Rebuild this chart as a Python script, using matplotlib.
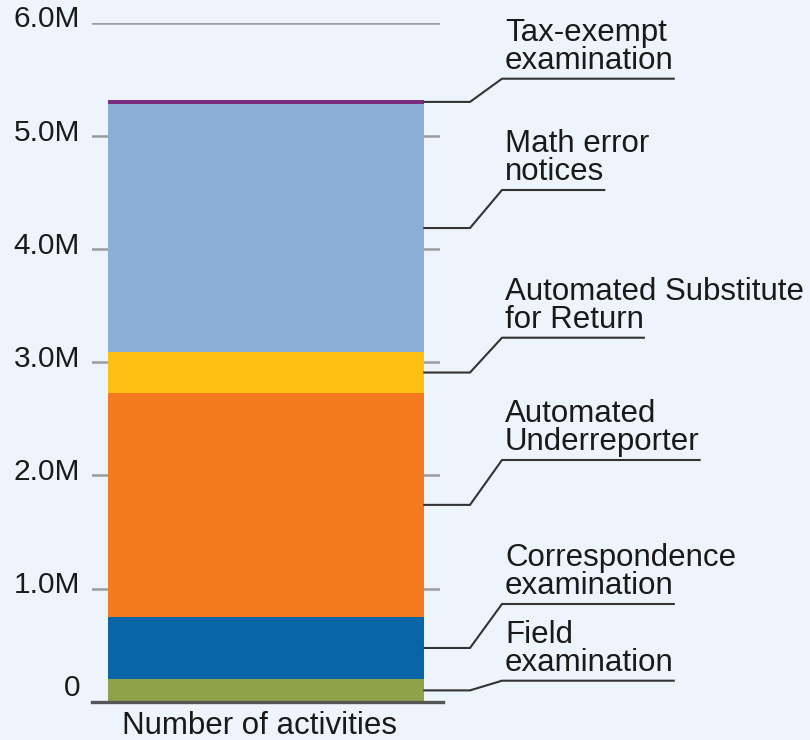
import matplotlib
matplotlib.use("Agg")
import matplotlib.pyplot as plt
from matplotlib.font_manager import FontProperties
from matplotlib.lines import Line2D
from matplotlib.transforms import blended_transform_factory, offset_copy

# ---------------- data ----------------
categories = [
    "Field\nexamination",
    "Correspondence\nexamination",
    "Automated\nUnderreporter",
    "Automated Substitute\nfor Return",
    "Math error\nnotices",
    "Tax-exempt\nexamination",
]
values = [0.20e6, 0.55e6, 1.98e6, 0.36e6, 2.195e6, 0.035e6]
colors = ["#8DA34A", "#0866A8", "#F47A20", "#FDC013", "#8AAED5", "#7A2D80"]
yticks = [0, 1e6, 2e6, 3e6, 4e6, 5e6, 6e6]
ytick_labels = ["0", "1.0M", "2.0M", "3.0M", "4.0M", "5.0M", "6.0M"]
xlabel = "Number of activities"

# ---------------- layout (pixels) ----------------
W, H = 810, 740
BG = "#EEF4FB"
FONT = "Liberation Sans"
TXT = "#1A1A1A"
label_line_px = [680.7, 604, 460, 337.7, 190, 78.7]   # underline y (from top)
elbow_x, diag_x, text_x = 470, 502, 505

fig = plt.figure(figsize=(W / 100, H / 100), dpi=100, facecolor=BG)
ax_left, ax_right, ax_top, ax_bot = 92, 440, 23, 701.7
ax = fig.add_axes([ax_left / W, 1 - ax_bot / H, (ax_right - ax_left) / W, (ax_bot - ax_top) / H])
ax.set_facecolor(BG)
ax.set_xlim(-0.5, 0.5)
ax.set_ylim(0, 6e6)
for s in ax.spines.values():
    s.set_visible(False)
ax.set_xticks([])
ax.set_yticks(yticks)
ax.set_yticklabels([])
ax.tick_params(axis="y", length=0)
ax.yaxis.grid(True, color="#9C9C9C", lw=1.8, zorder=0)
ax.set_axisbelow(True)

bar_w = 0.91
bottom = 0
mids = []
for v, c in zip(values, colors):
    ax.bar(0, v, width=bar_w, bottom=bottom, color=c, zorder=2, linewidth=0)
    mids.append(bottom + v / 2)
    bottom += v

# zero baseline
ax.axhline(0, xmin=0, xmax=(443 - ax_left) / (ax_right - ax_left), color="#555555",
           lw=2.4, zorder=3, clip_on=False)

# y tick labels
trans = blended_transform_factory(ax.transAxes, ax.transData)
for val, lab in zip(yticks, ytick_labels):
    dy = 14 if val == 0 else 3.5
    t = offset_copy(trans, fig=fig, x=-12, y=dy, units="dots")
    ax.text(0, val, lab, transform=t, ha="right", va="center", fontsize=21.5,
            family=FONT, color=TXT)

# x label
ax.text((260 - ax_left) / (ax_right - ax_left), 0, xlabel,
        transform=offset_copy(ax.transAxes, fig=fig, x=0, y=-9, units="dots"),
        ha="center", va="top", fontsize=22.5, family=FONT, color=TXT)

# labels with leader lines
fig.canvas.draw()
renderer = fig.canvas.get_renderer()
prop = FontProperties(family=FONT, size=22.5)
bar_right_px = ax.transData.transform((bar_w / 2, 0))[0]

def fx(px):
    return px / W

def fy(py):
    return 1 - py / H

for name, mid, ly in zip(categories, mids, label_line_px):
    start_py = H - ax.transData.transform((0, mid))[1]
    last = name.split("\n")[-1]
    w, h, d = renderer.get_text_width_height_descent(last, prop, ismath=False)
    end_x = text_x + w
    xs = [bar_right_px, elbow_x, diag_x, end_x]
    ys = [start_py, start_py, ly, ly]
    fig.add_artist(Line2D([fx(x) for x in xs], [fy(y) for y in ys],
                          transform=fig.transFigure, color="#333333", lw=1.5,
                          solid_joinstyle="miter", zorder=5))
    fig.text(fx(text_x), fy(ly - 3), name, ha="left", va="bottom",
             fontproperties=prop, color=TXT, linespacing=0.92)

fig.savefig("out.png", dpi=100, facecolor=BG)
